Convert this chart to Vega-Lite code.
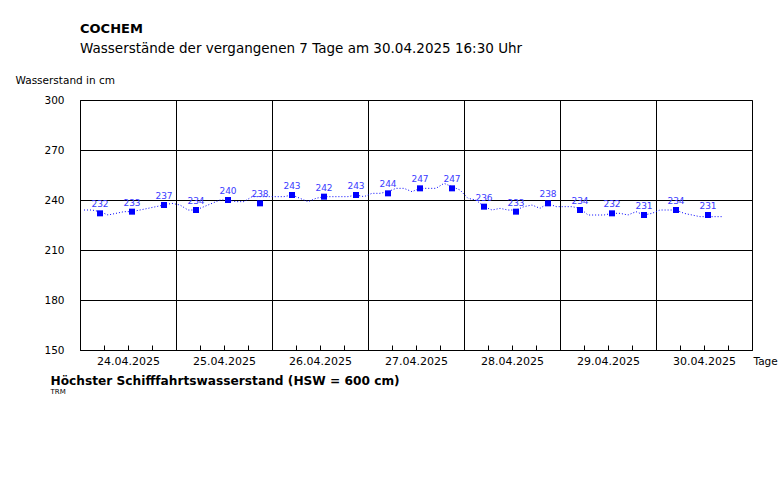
{
  "$schema": "https://vega.github.io/schema/vega-lite/v6.json",
  "autosize": {"type": "none"},
  "width": 672,
  "height": 250,
  "padding": {"left": 80, "top": 100, "right": 30, "bottom": 130},
  "background": "white",
  "config": {
    "font": "DejaVu Sans",
    "view": {"stroke": "black", "strokeWidth": 1},
    "axis": {"labelColor": "black", "titleColor": "black", "domainColor": "black", "tickColor": "black", "gridColor": "black", "gridOpacity": 1}
  },
  "title": {
    "text": "COCHEM",
    "subtitle": "Wasserstände der vergangenen 7 Tage am 30.04.2025 16:30 Uhr",
    "anchor": "start",
    "frame": "group",
    "fontSize": 13,
    "fontWeight": "bold",
    "color": "black",
    "subtitleFontSize": 13.5,
    "subtitleColor": "black",
    "subtitlePadding": 6,
    "offset": 20
  },
  "datasets": {
    "wl": [
      {"t": "2025-04-24T01:00", "v": 234}, {"t": "2025-04-24T03:00", "v": 234}, {"t": "2025-04-24T05:00", "v": 233}, {"t": "2025-04-24T07:00", "v": 231},
      {"t": "2025-04-24T09:00", "v": 232}, {"t": "2025-04-24T11:00", "v": 233}, {"t": "2025-04-24T13:00", "v": 233}, {"t": "2025-04-24T15:00", "v": 234},
      {"t": "2025-04-24T17:00", "v": 235}, {"t": "2025-04-24T19:00", "v": 236}, {"t": "2025-04-24T21:00", "v": 237}, {"t": "2025-04-24T23:00", "v": 238},
      {"t": "2025-04-25T01:00", "v": 237}, {"t": "2025-04-25T03:00", "v": 234}, {"t": "2025-04-25T05:00", "v": 234}, {"t": "2025-04-25T07:00", "v": 236},
      {"t": "2025-04-25T09:00", "v": 238}, {"t": "2025-04-25T11:00", "v": 240}, {"t": "2025-04-25T13:00", "v": 240}, {"t": "2025-04-25T15:00", "v": 239},
      {"t": "2025-04-25T17:00", "v": 239}, {"t": "2025-04-25T19:00", "v": 242}, {"t": "2025-04-25T21:00", "v": 242}, {"t": "2025-04-25T23:00", "v": 242},
      {"t": "2025-04-26T01:00", "v": 242}, {"t": "2025-04-26T03:00", "v": 242}, {"t": "2025-04-26T05:00", "v": 243}, {"t": "2025-04-26T07:00", "v": 241},
      {"t": "2025-04-26T09:00", "v": 239}, {"t": "2025-04-26T11:00", "v": 241}, {"t": "2025-04-26T13:00", "v": 242}, {"t": "2025-04-26T15:00", "v": 242},
      {"t": "2025-04-26T17:00", "v": 242}, {"t": "2025-04-26T19:00", "v": 242}, {"t": "2025-04-26T21:00", "v": 243}, {"t": "2025-04-26T23:00", "v": 242},
      {"t": "2025-04-27T01:00", "v": 244}, {"t": "2025-04-27T03:00", "v": 244}, {"t": "2025-04-27T05:00", "v": 245}, {"t": "2025-04-27T07:00", "v": 247},
      {"t": "2025-04-27T09:00", "v": 247}, {"t": "2025-04-27T11:00", "v": 245}, {"t": "2025-04-27T13:00", "v": 247}, {"t": "2025-04-27T15:00", "v": 247},
      {"t": "2025-04-27T17:00", "v": 247}, {"t": "2025-04-27T19:00", "v": 250}, {"t": "2025-04-27T21:00", "v": 248}, {"t": "2025-04-27T23:00", "v": 246},
      {"t": "2025-04-28T01:00", "v": 241}, {"t": "2025-04-28T03:00", "v": 240}, {"t": "2025-04-28T05:00", "v": 236}, {"t": "2025-04-28T07:00", "v": 234},
      {"t": "2025-04-28T09:00", "v": 235}, {"t": "2025-04-28T11:00", "v": 234}, {"t": "2025-04-28T13:00", "v": 234}, {"t": "2025-04-28T15:00", "v": 236},
      {"t": "2025-04-28T17:00", "v": 237}, {"t": "2025-04-28T19:00", "v": 235}, {"t": "2025-04-28T21:00", "v": 238}, {"t": "2025-04-28T23:00", "v": 236},
      {"t": "2025-04-29T01:00", "v": 236}, {"t": "2025-04-29T03:00", "v": 236}, {"t": "2025-04-29T05:00", "v": 235}, {"t": "2025-04-29T07:00", "v": 231},
      {"t": "2025-04-29T09:00", "v": 231}, {"t": "2025-04-29T11:00", "v": 231}, {"t": "2025-04-29T13:00", "v": 232}, {"t": "2025-04-29T15:00", "v": 232},
      {"t": "2025-04-29T17:00", "v": 231}, {"t": "2025-04-29T19:00", "v": 233}, {"t": "2025-04-29T21:00", "v": 231}, {"t": "2025-04-29T23:00", "v": 232},
      {"t": "2025-04-30T01:00", "v": 234}, {"t": "2025-04-30T03:00", "v": 234}, {"t": "2025-04-30T05:00", "v": 234}, {"t": "2025-04-30T07:00", "v": 232},
      {"t": "2025-04-30T09:00", "v": 231}, {"t": "2025-04-30T11:00", "v": 230}, {"t": "2025-04-30T13:00", "v": 230}, {"t": "2025-04-30T15:00", "v": 230},
      {"t": "2025-04-30T16:30", "v": 230}
    ],
    "pts": [
      {"t": "2025-04-24T05:00", "v": 232}, {"t": "2025-04-24T13:00", "v": 233}, {"t": "2025-04-24T21:00", "v": 237},
      {"t": "2025-04-25T05:00", "v": 234}, {"t": "2025-04-25T13:00", "v": 240}, {"t": "2025-04-25T21:00", "v": 238},
      {"t": "2025-04-26T05:00", "v": 243}, {"t": "2025-04-26T13:00", "v": 242}, {"t": "2025-04-26T21:00", "v": 243},
      {"t": "2025-04-27T05:00", "v": 244}, {"t": "2025-04-27T13:00", "v": 247}, {"t": "2025-04-27T21:00", "v": 247},
      {"t": "2025-04-28T05:00", "v": 236}, {"t": "2025-04-28T13:00", "v": 233}, {"t": "2025-04-28T21:00", "v": 238},
      {"t": "2025-04-29T05:00", "v": 234}, {"t": "2025-04-29T13:00", "v": 232}, {"t": "2025-04-29T21:00", "v": 231},
      {"t": "2025-04-30T05:00", "v": 234}, {"t": "2025-04-30T13:00", "v": 231}
    ]
  },
  "layer": [
    {
      "data": {"name": "wl"},
      "mark": {"type": "line", "color": "#0000ff", "strokeWidth": 1, "strokeDash": [1, 2]},
      "encoding": {
        "x": {
          "field": "t",
          "type": "temporal",
          "scale": {"domain": [{"year": 2025, "month": 4, "date": 24}, {"year": 2025, "month": 5, "date": 1}]},
          "axis": {
            "orient": "bottom",
            "values": [
              {"year": 2025, "month": 4, "date": 24}, {"year": 2025, "month": 4, "date": 25}, {"year": 2025, "month": 4, "date": 26},
              {"year": 2025, "month": 4, "date": 27}, {"year": 2025, "month": 4, "date": 28}, {"year": 2025, "month": 4, "date": 29},
              {"year": 2025, "month": 4, "date": 30}
            ],
            "grid": true,
            "ticks": false,
            "format": "%d.%m.%Y",
            "labelOffset": 48,
            "labelOverlap": false,
            "labelFlush": false,
            "labelBound": false,
            "labelFontSize": 11,
            "labelPadding": 5,
            "labelBaseline": "top",
            "title": "Höchster Schifffahrtswasserstand (HSW = 600 cm)",
            "titleFontSize": 12.2,
            "titleFontWeight": "bold",
            "titleX": -30,
            "titleY": 24,
            "titleAlign": "left",
            "titleBaseline": "top",
            "titleAnchor": "start"
          }
        },
        "y": {
          "field": "v",
          "type": "quantitative",
          "scale": {"domain": [150, 300], "nice": false, "zero": false},
          "axis": {
            "values": [150, 180, 210, 240, 270, 300],
            "grid": true,
            "ticks": false,
            "domain": false,
            "labelPadding": 16,
            "labelFontSize": 10.5,
            "title": "Wasserstand in cm",
            "titleAngle": 0,
            "titleX": -65,
            "titleY": -25,
            "titleAlign": "left",
            "titleBaseline": "top",
            "titleFontSize": 10.5,
            "titleFontWeight": "normal"
          }
        }
      }
    },
    {
      "data": {"name": "pts"},
      "mark": {"type": "square", "color": "#0000ff", "size": 36, "opacity": 1, "filled": true},
      "encoding": {
        "x": {
          "field": "t",
          "type": "temporal",
          "axis": {
            "orient": "bottom", "labels": false, "ticks": false, "grid": false, "domain": false,
            "title": "Tage", "titleX": 673, "titleY": 6, "titleAlign": "left", "titleBaseline": "top",
            "titleFontSize": 10.5, "titleFontWeight": "normal", "titleAnchor": "start"
          }
        },
        "y": {"field": "v", "type": "quantitative"}
      }
    },
    {
      "data": {"name": "pts"},
      "mark": {"type": "text", "color": "#3a3aff", "fontSize": 9, "dy": -6, "baseline": "alphabetic"},
      "encoding": {
        "x": {
          "field": "t",
          "type": "temporal",
          "axis": {
            "orient": "top", "offset": -250,
            "values": [
              {"year": 2025, "month": 4, "date": 24, "hours": 6}, {"year": 2025, "month": 4, "date": 24, "hours": 12}, {"year": 2025, "month": 4, "date": 24, "hours": 18},
              {"year": 2025, "month": 4, "date": 25, "hours": 6}, {"year": 2025, "month": 4, "date": 25, "hours": 12}, {"year": 2025, "month": 4, "date": 25, "hours": 18},
              {"year": 2025, "month": 4, "date": 26, "hours": 6}, {"year": 2025, "month": 4, "date": 26, "hours": 12}, {"year": 2025, "month": 4, "date": 26, "hours": 18},
              {"year": 2025, "month": 4, "date": 27, "hours": 6}, {"year": 2025, "month": 4, "date": 27, "hours": 12}, {"year": 2025, "month": 4, "date": 27, "hours": 18},
              {"year": 2025, "month": 4, "date": 28, "hours": 6}, {"year": 2025, "month": 4, "date": 28, "hours": 12}, {"year": 2025, "month": 4, "date": 28, "hours": 18},
              {"year": 2025, "month": 4, "date": 29, "hours": 6}, {"year": 2025, "month": 4, "date": 29, "hours": 12}, {"year": 2025, "month": 4, "date": 29, "hours": 18},
              {"year": 2025, "month": 4, "date": 30, "hours": 6}, {"year": 2025, "month": 4, "date": 30, "hours": 12}, {"year": 2025, "month": 4, "date": 30, "hours": 18}
            ],
            "labels": false, "ticks": true, "tickSize": 5, "grid": false, "domain": false,
            "title": "TRM", "titleX": -30, "titleY": 37, "titleAlign": "left", "titleBaseline": "top",
            "titleFontSize": 7, "titleFontWeight": "normal", "titleAnchor": "start"
          }
        },
        "y": {"field": "v", "type": "quantitative"},
        "text": {"field": "v", "type": "quantitative"}
      }
    }
  ],
  "resolve": {"axis": {"x": "independent"}}
}
